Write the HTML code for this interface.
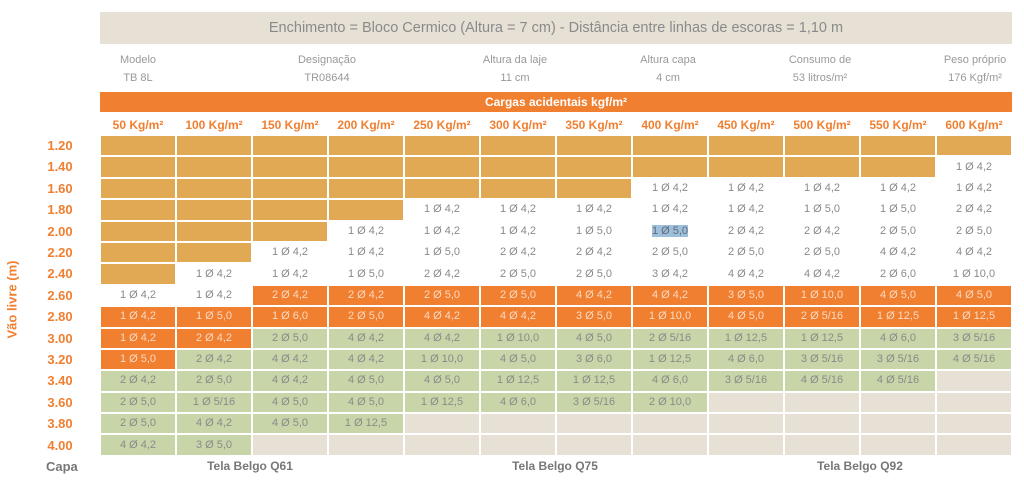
<!DOCTYPE html>
<html><head><meta charset="utf-8">
<style>
*{margin:0;padding:0;box-sizing:border-box}
body{width:1024px;height:485px;background:#fff;font-family:"Liberation Sans",sans-serif;position:relative;overflow:hidden}
.abs{position:absolute}
#top{left:100px;top:12px;width:912px;height:32px;background:#E6E0D5;color:#8a8a8a;font-size:14.5px;text-align:center;line-height:32px}
.info{top:51px;font-size:11px;color:#999;text-align:center;line-height:18px;width:120px}
#obar{left:100px;top:92px;width:912px;height:20px;background:#F07F30;color:#fff;font-weight:bold;font-size:12px;text-align:center;line-height:20px}
.kg{top:118px;width:76px;text-align:center;color:#F07F30;font-weight:bold;font-size:12px}
.rl{left:40px;width:40px;color:#F07F30;font-weight:bold;font-size:13px;text-align:center;line-height:21.4px}
table{position:absolute;left:99px;top:134px;width:914px;border-collapse:separate;border-spacing:2px;table-layout:fixed}
td{height:19.4px;font-size:11px;color:#8a8a8a;text-align:center;padding:0;line-height:19px;white-space:nowrap}
.T{background:#E2A955}.O{background:#F07F30;color:#fbd9c2}.G{background:#C8D5A8}.B{background:#E6E0D5}
.ft{top:459px;font-weight:bold;font-size:12px;color:#777}
</style></head><body>
<div id="top" class="abs">Enchimento = Bloco Cermico (Altura = 7 cm) - Distância entre linhas de escoras = 1,10 m</div>
<div class="abs info" style="left:78px">Modelo<br>TB 8L</div>
<div class="abs info" style="left:267px">Designação<br>TR08644</div>
<div class="abs info" style="left:455px">Altura da laje<br>11 cm</div>
<div class="abs info" style="left:608px">Altura capa<br>4 cm</div>
<div class="abs info" style="left:760px">Consumo de<br>53 litros/m²</div>
<div class="abs info" style="left:915px">Peso próprio<br>176 Kgf/m²</div>
<div id="obar" class="abs">Cargas acidentais kgf/m²</div>
<div class="abs kg" style="left:100px">50 Kg/m²</div>
<div class="abs kg" style="left:176px">100 Kg/m²</div>
<div class="abs kg" style="left:252px">150 Kg/m²</div>
<div class="abs kg" style="left:328px">200 Kg/m²</div>
<div class="abs kg" style="left:404px">250 Kg/m²</div>
<div class="abs kg" style="left:480px">300 Kg/m²</div>
<div class="abs kg" style="left:556px">350 Kg/m²</div>
<div class="abs kg" style="left:632px">400 Kg/m²</div>
<div class="abs kg" style="left:708px">450 Kg/m²</div>
<div class="abs kg" style="left:784px">500 Kg/m²</div>
<div class="abs kg" style="left:860px">550 Kg/m²</div>
<div class="abs kg" style="left:936px">600 Kg/m²</div>
<div class="abs" style="left:40px;top:135px">
<div class="rl" style="position:static">1.20</div><div class="rl" style="position:static">1.40</div><div class="rl" style="position:static">1.60</div><div class="rl" style="position:static">1.80</div><div class="rl" style="position:static">2.00</div><div class="rl" style="position:static">2.20</div><div class="rl" style="position:static">2.40</div><div class="rl" style="position:static">2.60</div><div class="rl" style="position:static">2.80</div><div class="rl" style="position:static">3.00</div><div class="rl" style="position:static">3.20</div><div class="rl" style="position:static">3.40</div><div class="rl" style="position:static">3.60</div><div class="rl" style="position:static">3.80</div><div class="rl" style="position:static">4.00</div>
</div>
<div class="abs" style="left:-28px;top:292px;width:80px;text-align:center;transform:rotate(-90deg);color:#F07F30;font-weight:bold;font-size:13px">Vão livre (m)</div>
<table>
<tr><td class="T"></td><td class="T"></td><td class="T"></td><td class="T"></td><td class="T"></td><td class="T"></td><td class="T"></td><td class="T"></td><td class="T"></td><td class="T"></td><td class="T"></td><td class="T"></td></tr>
<tr><td class="T"></td><td class="T"></td><td class="T"></td><td class="T"></td><td class="T"></td><td class="T"></td><td class="T"></td><td class="T"></td><td class="T"></td><td class="T"></td><td class="T"></td><td>1 Ø 4,2</td></tr>
<tr><td class="T"></td><td class="T"></td><td class="T"></td><td class="T"></td><td class="T"></td><td class="T"></td><td class="T"></td><td>1 Ø 4,2</td><td>1 Ø 4,2</td><td>1 Ø 4,2</td><td>1 Ø 4,2</td><td>1 Ø 4,2</td></tr>
<tr><td class="T"></td><td class="T"></td><td class="T"></td><td class="T"></td><td>1 Ø 4,2</td><td>1 Ø 4,2</td><td>1 Ø 4,2</td><td>1 Ø 4,2</td><td>1 Ø 4,2</td><td>1 Ø 5,0</td><td>1 Ø 5,0</td><td>2 Ø 4,2</td></tr>
<tr><td class="T"></td><td class="T"></td><td class="T"></td><td>1 Ø 4,2</td><td>1 Ø 4,2</td><td>1 Ø 4,2</td><td>1 Ø 5,0</td><td><span style="background:#9cc0dc;color:#667">1 Ø 5,0</span></td><td>2 Ø 4,2</td><td>2 Ø 4,2</td><td>2 Ø 5,0</td><td>2 Ø 5,0</td></tr>
<tr><td class="T"></td><td class="T"></td><td>1 Ø 4,2</td><td>1 Ø 4,2</td><td>1 Ø 5,0</td><td>2 Ø 4,2</td><td>2 Ø 4,2</td><td>2 Ø 5,0</td><td>2 Ø 5,0</td><td>2 Ø 5,0</td><td>4 Ø 4,2</td><td>4 Ø 4,2</td></tr>
<tr><td class="T"></td><td>1 Ø 4,2</td><td>1 Ø 4,2</td><td>1 Ø 5,0</td><td>2 Ø 4,2</td><td>2 Ø 5,0</td><td>2 Ø 5,0</td><td>3 Ø 4,2</td><td>4 Ø 4,2</td><td>4 Ø 4,2</td><td>2 Ø 6,0</td><td>1 Ø 10,0</td></tr>
<tr><td>1 Ø 4,2</td><td>1 Ø 4,2</td><td class="O">2 Ø 4,2</td><td class="O">2 Ø 4,2</td><td class="O">2 Ø 5,0</td><td class="O">2 Ø 5,0</td><td class="O">4 Ø 4,2</td><td class="O">4 Ø 4,2</td><td class="O">3 Ø 5,0</td><td class="O">1 Ø 10,0</td><td class="O">4 Ø 5,0</td><td class="O">4 Ø 5,0</td></tr>
<tr><td class="O">1 Ø 4,2</td><td class="O">1 Ø 5,0</td><td class="O">1 Ø 6,0</td><td class="O">2 Ø 5,0</td><td class="O">4 Ø 4,2</td><td class="O">4 Ø 4,2</td><td class="O">3 Ø 5,0</td><td class="O">1 Ø 10,0</td><td class="O">4 Ø 5,0</td><td class="O">2 Ø 5/16</td><td class="O">1 Ø 12,5</td><td class="O">1 Ø 12,5</td></tr>
<tr><td class="O">1 Ø 4,2</td><td class="O">2 Ø 4,2</td><td class="G">2 Ø 5,0</td><td class="G">4 Ø 4,2</td><td class="G">4 Ø 4,2</td><td class="G">1 Ø 10,0</td><td class="G">4 Ø 5,0</td><td class="G">2 Ø 5/16</td><td class="G">1 Ø 12,5</td><td class="G">1 Ø 12,5</td><td class="G">4 Ø 6,0</td><td class="G">3 Ø 5/16</td></tr>
<tr><td class="O">1 Ø 5,0</td><td class="G">2 Ø 4,2</td><td class="G">4 Ø 4,2</td><td class="G">4 Ø 4,2</td><td class="G">1 Ø 10,0</td><td class="G">4 Ø 5,0</td><td class="G">3 Ø 6,0</td><td class="G">1 Ø 12,5</td><td class="G">4 Ø 6,0</td><td class="G">3 Ø 5/16</td><td class="G">3 Ø 5/16</td><td class="G">4 Ø 5/16</td></tr>
<tr><td class="G">2 Ø 4,2</td><td class="G">2 Ø 5,0</td><td class="G">4 Ø 4,2</td><td class="G">4 Ø 5,0</td><td class="G">4 Ø 5,0</td><td class="G">1 Ø 12,5</td><td class="G">1 Ø 12,5</td><td class="G">4 Ø 6,0</td><td class="G">3 Ø 5/16</td><td class="G">4 Ø 5/16</td><td class="G">4 Ø 5/16</td><td class="B"></td></tr>
<tr><td class="G">2 Ø 5,0</td><td class="G">1 Ø 5/16</td><td class="G">4 Ø 5,0</td><td class="G">4 Ø 5,0</td><td class="G">1 Ø 12,5</td><td class="G">4 Ø 6,0</td><td class="G">3 Ø 5/16</td><td class="G">2 Ø 10,0</td><td class="B"></td><td class="B"></td><td class="B"></td><td class="B"></td></tr>
<tr><td class="G">2 Ø 5,0</td><td class="G">4 Ø 4,2</td><td class="G">4 Ø 5,0</td><td class="G">1 Ø 12,5</td><td class="B"></td><td class="B"></td><td class="B"></td><td class="B"></td><td class="B"></td><td class="B"></td><td class="B"></td><td class="B"></td></tr>
<tr><td class="G">4 Ø 4,2</td><td class="G">3 Ø 5,0</td><td class="B"></td><td class="B"></td><td class="B"></td><td class="B"></td><td class="B"></td><td class="B"></td><td class="B"></td><td class="B"></td><td class="B"></td><td class="B"></td></tr>
</table>
<div class="abs ft" style="left:46px;font-size:13px">Capa</div>
<div class="abs ft" style="left:170px;width:160px;text-align:center">Tela Belgo Q61</div>
<div class="abs ft" style="left:475px;width:160px;text-align:center">Tela Belgo Q75</div>
<div class="abs ft" style="left:780px;width:160px;text-align:center">Tela Belgo Q92</div>
</body></html>
